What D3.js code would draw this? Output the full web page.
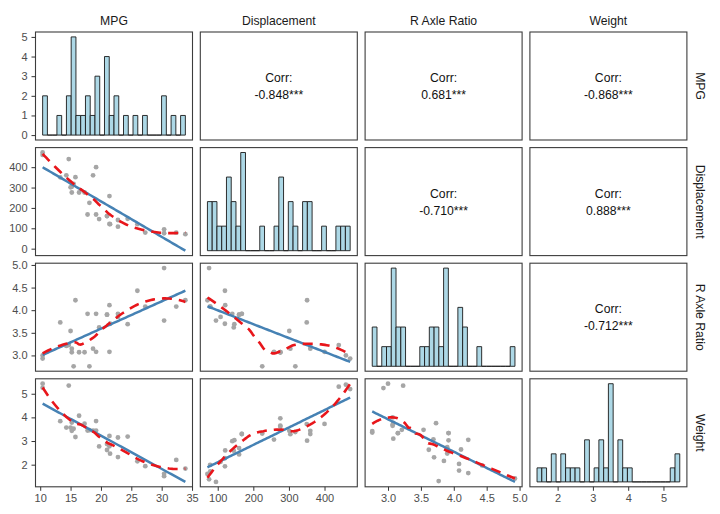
<!DOCTYPE html>
<html>
<head>
<meta charset="utf-8">
<script src="https://cdn.jsdelivr.net/npm/d3@7"></script>
<style>
  body { margin: 0; background: #fff; }
  text { font-family: "Liberation Sans", Arial, sans-serif; }
</style>
</head>
<body>
<svg id="chart" width="720" height="514"></svg>
<script>
// mtcars columns shown in the matrix
var varLabels = ['MPG', 'Displacement', 'R Axle Ratio', 'Weight'];
var mpg = [21.0, 21.0, 22.8, 21.4, 18.7, 18.1, 14.3, 24.4, 22.8, 19.2, 17.8, 16.4, 17.3, 15.2, 10.4, 10.4,
           14.7, 32.4, 30.4, 33.9, 21.5, 15.5, 15.2, 13.3, 19.2, 27.3, 26.0, 30.4, 15.8, 19.7, 15.0, 21.4];
var disp = [160, 160, 108, 258, 360, 225, 360, 146.7, 140.8, 167.6, 167.6, 275.8, 275.8, 275.8, 472, 460,
            440, 78.7, 75.7, 71.1, 120.1, 318, 304, 350, 400, 79, 120.3, 95.1, 351, 145, 301, 121];
var drat = [3.90, 3.90, 3.85, 3.08, 3.15, 2.76, 3.21, 3.69, 3.92, 3.92, 3.92, 3.07, 3.07, 3.07, 2.93, 3.00,
            3.23, 4.08, 4.93, 4.22, 3.70, 2.76, 3.15, 3.73, 3.08, 4.08, 4.43, 3.77, 4.22, 3.62, 3.54, 4.11];
var wt = [2.620, 2.875, 2.320, 3.215, 3.440, 3.460, 3.570, 3.190, 3.150, 3.440, 3.440, 4.070, 3.730, 3.780, 5.250, 5.424,
          5.345, 2.200, 1.615, 1.835, 2.465, 3.520, 3.435, 3.840, 3.845, 1.935, 2.140, 1.513, 3.170, 2.770, 3.570, 2.780];

// tick labels
var countTicks = [0, 1, 2, 3, 4, 5];
var mpgTicks = [10, 15, 20, 25, 30, 35];
var dispTicks = [0, 100, 200, 300, 400];
var dratTicks = [3.0, 3.5, 4.0, 4.5, 5.0];
var wtTicks = [2, 3, 4, 5];

var vars = [mpg, disp, drat, wt];
var varTicks = [mpgTicks, dispTicks, dratTicks, wtTicks];
var tickFmt = [d3.format('d'), d3.format('d'), d3.format('.1f'), d3.format('d')];

var panelW = 157, panelH = 108;
var left0 = 35.5, top0 = 32, stepX = 164.8, stepY = 115.6;

var svg = d3.select('#chart');

// expand a range by 5% like ggplot does
function expand(ext) {
    var d = (ext[1] - ext[0]) * 0.05;
    return [ext[0] - d, ext[1] + d];
}

// ggplot2 stat_bin with bins = 30
function histBins(values) {
    var ext = d3.extent(values);
    var width = (ext[1] - ext[0]) / 29;
    var boundary = width / 2;
    var origin = boundary + Math.floor((ext[0] - boundary) / width) * width;
    var maxX = ext[1] + (1 - 1e-8) * width;
    var breaks = [];
    for (var k = 0; origin + k * width <= maxX; k++) breaks.push(origin + k * width);
    var fuzz = 1e-8 * width;
    var bins = [];
    for (var b = 0; b < breaks.length - 1; b++) {
        var lo = breaks[b] + (b === 0 ? -fuzz : fuzz), hi = breaks[b + 1] + fuzz;
        var c = values.filter(function (v) { return v > lo && v <= hi; }).length;
        bins.push({x0: breaks[b], x1: breaks[b + 1], count: c});
    }
    return bins;
}

// local quadratic fit, span 0.75, tricube weights
function loessAt(xs, ys, x0) {
    var q = Math.floor(xs.length * 0.75);
    var d = xs.map(function (x) { return Math.abs(x - x0); });
    var h = d.slice().sort(function (a, b) { return a - b; })[q - 1];
    var s = [0, 0, 0, 0, 0], b = [0, 0, 0];
    for (var i = 0; i < xs.length; i++) {
        var u = d[i] / h;
        if (u >= 1) continue;
        var w = Math.pow(1 - u * u * u, 3), t = xs[i] - x0;
        s[0] += w; s[1] += w * t; s[2] += w * t * t; s[3] += w * t * t * t; s[4] += w * t * t * t * t;
        b[0] += w * ys[i]; b[1] += w * t * ys[i]; b[2] += w * t * t * ys[i];
    }
    var m = [[s[0], s[1], s[2]], [s[1], s[2], s[3]], [s[2], s[3], s[4]]];
    function det(a) {
        return a[0][0] * (a[1][1] * a[2][2] - a[1][2] * a[2][1])
             - a[0][1] * (a[1][0] * a[2][2] - a[1][2] * a[2][0])
             + a[0][2] * (a[1][0] * a[2][1] - a[1][1] * a[2][0]);
    }
    var m0 = m.map(function (row, r) { return [b[r], row[1], row[2]]; });
    return det(m0) / det(m);
}

function linFit(xs, ys) {
    var mx = d3.mean(xs), my = d3.mean(ys);
    var sxy = d3.sum(xs, function (x, i) { return (x - mx) * (ys[i] - my); });
    var sxx = d3.sum(xs, function (x) { return (x - mx) * (x - mx); });
    var slope = sxy / sxx;
    return function (x) { return my + slope * (x - mx); };
}

function corr(xs, ys) {
    var mx = d3.mean(xs), my = d3.mean(ys);
    var sxy = 0, sxx = 0, syy = 0;
    for (var i = 0; i < xs.length; i++) {
        sxy += (xs[i] - mx) * (ys[i] - my);
        sxx += (xs[i] - mx) * (xs[i] - mx);
        syy += (ys[i] - my) * (ys[i] - my);
    }
    return sxy / Math.sqrt(sxx * syy);
}

// significance stars, t critical values for df = 30
function stars(r, n) {
    var t = Math.abs(r) * Math.sqrt((n - 2) / (1 - r * r));
    return t > 3.646 ? '***' : t > 2.750 ? '**' : t > 2.042 ? '*' : t > 1.697 ? '.' : '';
}

var bottomX = [], leftY = [];

for (var i = 0; i < 4; i++) {
    for (var j = 0; j < 4; j++) {
        var g = svg.append('g')
            .attr('transform', 'translate(' + (left0 + j * stepX) + ',' + (top0 + i * stepY) + ')');
        var x, y;

        if (i === j) {
            // diagonal: histogram
            var bins = histBins(vars[i]);
            x = d3.scaleLinear().domain(expand([bins[0].x0, bins[bins.length - 1].x1])).range([0, panelW]);
            y = d3.scaleLinear().domain(expand([0, d3.max(bins, function (d) { return d.count; })])).range([panelH, 0]);
            g.selectAll('path.bar').data(bins).enter().append('path')
                .attr('class', 'bar')
                .attr('d', function (d) {
                    return 'M' + x(d.x0) + ',' + y(0) + 'H' + x(d.x1) + 'V' + y(d.count) + 'H' + x(d.x0) + 'Z';
                })
                .attr('fill', '#ADD8E6')
                .attr('stroke', '#1a1a1a')
                .attr('stroke-width', 0.9);
        } else if (i > j) {
            // lower: scatter with lm and loess
            var xs = vars[j], ys = vars[i];
            var xExt = d3.extent(xs);
            var lm = linFit(xs, ys);
            var grid = d3.range(80).map(function (k) { return xExt[0] + k * (xExt[1] - xExt[0]) / 79; });
            var lmPts = grid.map(function (v) { return [v, lm(v)]; });
            var loPts = grid.map(function (v) { return [v, loessAt(xs, ys, v)]; });
            var allY = ys.concat(lmPts.map(function (p) { return p[1]; }), loPts.map(function (p) { return p[1]; }));
            x = d3.scaleLinear().domain(expand(xExt)).range([0, panelW]);
            y = d3.scaleLinear().domain(expand(d3.extent(allY))).range([panelH, 0]);

            g.selectAll('circle').data(xs).enter().append('circle')
                .attr('cx', function (d) { return x(d); })
                .attr('cy', function (d, k) { return y(ys[k]); })
                .attr('r', 2.4)
                .attr('fill', '#a6a6a6');

            var line = d3.line().x(function (p) { return x(p[0]); }).y(function (p) { return y(p[1]); });
            g.append('path').attr('d', line(lmPts))
                .attr('fill', 'none').attr('stroke', '#4682B4').attr('stroke-width', 2.5);
            g.append('path').attr('d', line(loPts))
                .attr('fill', 'none').attr('stroke', '#e8161b').attr('stroke-width', 2.6)
                .attr('stroke-dasharray', '10,7');
        } else {
            // upper: correlation text
            var r = corr(vars[j], vars[i]);
            g.append('text').attr('x', panelW / 2).attr('y', panelH / 2 - 8)
                .attr('text-anchor', 'middle').attr('dominant-baseline', 'central')
                .attr('font-size', '12.2px').attr('fill', '#111').text('Corr:');
            g.append('text').attr('x', panelW / 2).attr('y', panelH / 2 + 9)
                .attr('text-anchor', 'middle').attr('dominant-baseline', 'central')
                .attr('font-size', '12.2px').attr('fill', '#111')
                .text(r.toFixed(3) + stars(r, vars[i].length));
        }

        g.append('rect')
            .attr('width', panelW).attr('height', panelH)
            .attr('fill', 'none').attr('stroke', '#3d3d3d').attr('stroke-width', 1.1);

        if (i === 3) bottomX[j] = x;
        if (j === 0) leftY[i] = y;
    }
}

function styleAxis(sel) {
    sel.select('.domain').remove();
    sel.selectAll('.tick line').attr('stroke', '#333');
    sel.selectAll('.tick text').attr('fill', '#4d4d4d').attr('font-size', '11px')
        .attr('font-family', '"Liberation Sans", Arial, sans-serif');
}

function inDomain(ticks, scale) {
    var dm = scale.domain();
    return ticks.filter(function (t) { return t >= dm[0] && t <= dm[1]; });
}

// bottom axes
for (var c = 0; c < 4; c++) {
    var xa = d3.axisBottom(bottomX[c]).tickValues(inDomain(varTicks[c], bottomX[c]))
        .tickFormat(tickFmt[c]).tickSize(4).tickPadding(3.5);
    svg.append('g')
        .attr('transform', 'translate(' + (left0 + c * stepX) + ',' + (top0 + 3 * stepY + panelH) + ')')
        .call(xa).call(styleAxis);
}

// left axes
for (var rr = 0; rr < 4; rr++) {
    var yTicks = rr === 0 ? countTicks : varTicks[rr];
    var yFmt = rr === 0 ? d3.format('d') : tickFmt[rr];
    var ya = d3.axisLeft(leftY[rr]).tickValues(inDomain(yTicks, leftY[rr]))
        .tickFormat(yFmt).tickSize(4).tickPadding(4);
    svg.append('g')
        .attr('transform', 'translate(' + left0 + ',' + (top0 + rr * stepY) + ')')
        .call(ya).call(styleAxis);
}

// strip labels
varLabels.forEach(function (lab, k) {
    svg.append('text')
        .attr('x', left0 + k * stepX + panelW / 2).attr('y', 21)
        .attr('text-anchor', 'middle').attr('dominant-baseline', 'central')
        .attr('font-size', '12.2px').attr('fill', '#1a1a1a').text(lab);
    var cy = top0 + k * stepY + panelH / 2;
    svg.append('text')
        .attr('transform', 'translate(700,' + cy + ') rotate(90)')
        .attr('text-anchor', 'middle').attr('dominant-baseline', 'central')
        .attr('font-size', '12.2px').attr('fill', '#1a1a1a').text(lab);
});
</script>
</body>
</html>
